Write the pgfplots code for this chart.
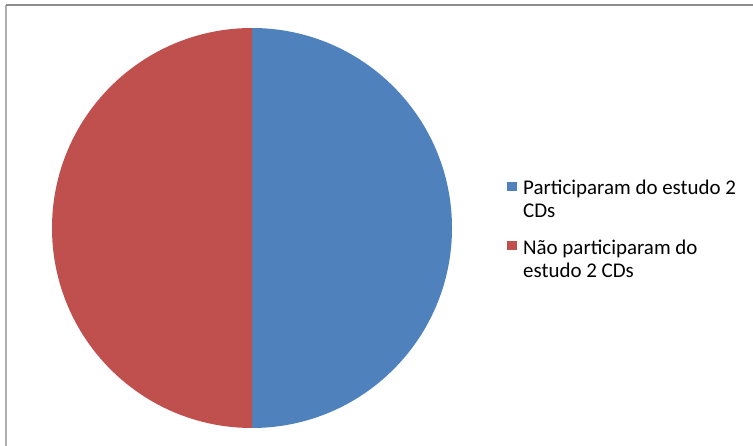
\documentclass[border=0pt]{standalone}
\usepackage{pgfplots}
\pgfplotsset{compat=1.18}
\usepackage{pgfplotstable}
\usetikzlibrary{calc}
\usepackage{fontspec}
\setmainfont{Carlito}

\definecolor{partblue}{HTML}{4F81BD}
\definecolor{naored}{HTML}{C0504D}
\definecolor{framegray}{HTML}{8C8C8C}

% share of each group (percent)
\pgfplotstableread{
valor
50
50
}\pietable

% two-line legend text, baseline on the first line
\newcommand{\legtext}[2]{\begin{tabular}[t]{@{}l@{}}#1\\#2\end{tabular}}

\begin{document}
\begin{tikzpicture}
\pgfplotstablegetelem{0}{valor}\of\pietable \let\va\pgfplotsretval
\pgfplotstablegetelem{1}{valor}\of\pietable \let\vb\pgfplotsretval
\pgfmathsetmacro\total{\va+\vb}
% slices start at twelve o'clock and run clockwise
\pgfmathsetmacro\angA{90-360*(\va/\total)}
\pgfmathsetmacro\angB{\angA-360*(\vb/\total)}
\begin{axis}[
  scale only axis, width=753bp, height=446bp,
  xmin=0, xmax=753, ymin=0, ymax=446,
  hide axis, clip=false,
  legend style={at={(axis cs:507,268)}, anchor=north west, draw=none, fill=none,
    font=\fontsize{21}{23.5}\selectfont,
    nodes={inner sep=0pt, anchor=base west},
    row sep=42bp, inner sep=0pt,
    /tikz/every odd column/.append style={column sep=6.5bp}},
  legend image code/.code={\fill[#1, draw=none] (0bp,4bp) rectangle (9.5bp,13bp);},
]
\addlegendimage{fill=partblue}
\addlegendentry{\legtext{Participaram do estudo 2}{CDs}}
\addlegendimage{fill=naored}
\addlegendentry{\legtext{Não participaram do}{estudo 2 CDs}}

\fill[partblue] (axis cs:252,218) -- (axis cs:252,418)
  arc[start angle=90, end angle=\angA, radius=200bp] -- cycle;
\fill[naored] (axis cs:252,218) -- ($(axis cs:252,218)+(\angA:200bp)$)
  arc[start angle=\angA, end angle=\angB, radius=200bp] -- cycle;

\draw[framegray!70, line width=1.2bp] (axis cs:6,-20) -- (axis cs:6,441);
\draw[framegray, line width=1.6bp] (axis cs:6,441) -- (axis cs:800,441);
\end{axis}
\pgfresetboundingbox
\path[use as bounding box] (0,0) rectangle (753bp,446bp);
\end{tikzpicture}
\end{document}
